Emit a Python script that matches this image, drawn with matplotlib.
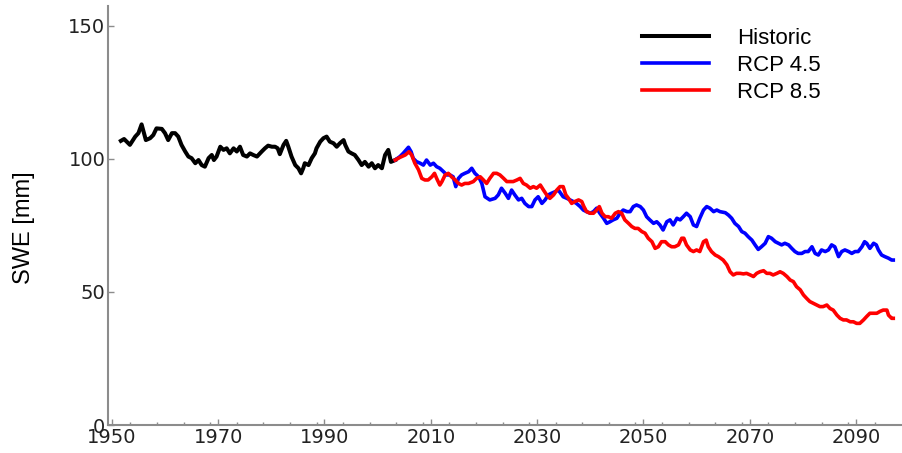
import matplotlib
matplotlib.use('Agg')
import matplotlib.pyplot as plt
from matplotlib.ticker import FixedLocator
import numpy as np

# Snow water equivalent, historic run and two RCP scenarios
hist_year = [1951.7, 1952.3, 1953.4, 1954.4, 1955.0, 1955.6, 1956.4, 1957.2, 1957.8, 1958.4,
             1959.4, 1960.0, 1960.6, 1961.3, 1961.9, 1962.5, 1963.1, 1963.8, 1964.4, 1965.0,
             1965.7, 1966.3, 1966.9, 1967.5, 1968.2, 1968.8, 1969.2, 1969.7, 1970.4, 1971.0,
             1971.6, 1972.2, 1972.9, 1973.5, 1974.1, 1974.7, 1975.4, 1976.0, 1976.6, 1977.3,
             1978.2, 1978.8, 1979.4, 1980.1, 1980.7, 1981.2, 1981.6, 1982.3, 1982.8, 1983.2,
             1983.8, 1984.5, 1985.1, 1985.6, 1986.0, 1986.3, 1987.0, 1987.6, 1988.2, 1988.5,
             1989.2, 1989.8, 1990.4, 1991.0, 1991.7, 1992.3, 1992.9, 1993.6, 1993.9, 1994.5,
             1995.1, 1995.7, 1996.4, 1997.0, 1997.6, 1998.3, 1998.9, 1999.5, 2000.1, 2000.8,
             2001.4, 2002.0, 2002.5, 2003.3]
hist_swe = [106.8, 107.5, 105.3, 108.4, 109.7, 113.0, 107.1, 107.8, 109.0, 111.5,
            111.3, 109.7, 107.1, 109.7, 109.7, 108.4, 105.3, 102.8, 100.9, 100.3,
            98.4, 99.6, 97.7, 97.1, 100.3, 101.5, 99.6, 100.9, 104.6, 103.4,
            104.0, 102.1, 104.0, 102.8, 104.6, 101.5, 100.9, 102.1, 101.5, 100.9,
            102.8, 104.0, 105.0, 104.6, 104.6, 104.0, 101.8, 105.3, 106.8, 104.6,
            100.9, 97.7, 96.5, 94.6, 96.5, 98.4, 97.7, 100.3, 102.1, 104.0,
            106.5, 107.8, 108.4, 106.5, 105.9, 104.6, 105.9, 107.1, 105.3, 102.8,
            102.1, 101.5, 99.6, 97.7, 98.9, 97.1, 98.4, 96.5, 97.7, 96.5,
            101.5, 103.4, 98.9, 99.6]

rcp45_year = [2003.3, 2004.2, 2004.8, 2005.8, 2006.3, 2006.7, 2007.3, 2008.0, 2008.6, 2009.2,
              2009.9, 2010.5, 2011.1, 2011.7, 2012.4, 2013.0, 2013.6, 2014.2, 2014.7, 2015.2,
              2015.8, 2016.4, 2017.1, 2017.7, 2018.3, 2019.0, 2019.6, 2020.2, 2021.1, 2022.1,
              2022.7, 2023.3, 2024.0, 2024.6, 2025.2, 2025.8, 2026.5, 2027.1, 2027.7, 2028.4,
              2029.0, 2029.6, 2030.2, 2030.9, 2031.5, 2032.1, 2032.7, 2033.4, 2034.0,
              2034.9, 2035.6, 2036.2, 2036.8, 2037.4, 2038.1, 2038.7, 2039.3, 2040.0, 2040.6,
              2041.2, 2041.8, 2042.5, 2043.1, 2043.7, 2044.3, 2045.0, 2045.6, 2046.2, 2046.9,
              2047.5, 2048.1, 2048.7, 2049.4, 2050.0, 2050.6, 2051.2, 2051.9, 2052.5, 2053.1,
              2053.7, 2054.4, 2055.0, 2055.6, 2056.3, 2056.9, 2057.5, 2058.1, 2058.8, 2059.4,
              2060.0, 2060.6, 2061.3, 2061.9, 2062.5, 2063.2, 2063.8,
              2064.4, 2065.4, 2066.0, 2066.6, 2067.2, 2067.9, 2068.5, 2069.1, 2069.7, 2070.4,
              2071.0, 2071.6, 2072.2, 2072.9, 2073.5, 2074.1, 2074.8, 2075.4, 2076.0, 2076.6,
              2077.3, 2077.9, 2078.5, 2079.1, 2079.8, 2080.4, 2081.0, 2081.7, 2082.3, 2082.9,
              2083.5, 2084.2, 2084.8, 2085.4, 2086.0, 2086.7, 2087.3, 2087.9, 2088.6, 2089.2,
              2089.8, 2090.4, 2091.1, 2091.6, 2092.0, 2092.6, 2093.3, 2093.8, 2094.2, 2094.8,
              2095.4, 2096.1, 2096.7, 2097.0]
rcp45_swe = [99.6, 100.9, 102.1, 104.4, 102.7, 100.2, 99.0, 98.4, 97.7, 99.6,
             97.7, 98.4, 97.1, 96.5, 95.2, 94.0, 94.0, 93.3, 89.6, 92.7,
             94.0, 94.6, 95.2, 96.5, 94.6, 93.3, 90.8, 85.8, 84.6, 85.2,
             86.5, 89.0, 87.1, 85.2, 88.3, 86.5, 84.6, 85.2, 83.3, 82.1,
             82.1, 84.6, 85.8, 83.3, 84.6, 86.5, 87.1, 87.7, 88.3,
             85.8, 85.2, 84.6, 84.0, 83.3, 82.1, 80.8, 80.2, 79.6, 80.2,
             81.5, 79.6, 77.7, 75.8, 76.4, 77.1, 77.7, 79.6, 80.8, 80.2,
             80.2, 82.1, 82.7, 82.1, 80.8, 78.3, 77.1, 75.8, 76.4, 75.2,
             73.3, 76.4, 77.1, 75.2, 77.7, 77.1, 78.3, 79.6, 78.3, 75.2,
             74.6, 77.7, 80.8, 82.1, 81.5, 80.2, 80.8,
             80.2, 79.8, 78.9, 77.7, 75.8, 74.6, 72.7, 72.1, 70.8, 69.5,
             67.7, 66.0, 67.0, 68.3, 70.8, 70.2, 68.9, 68.3, 67.7, 68.3,
             67.7, 66.4, 65.2, 64.5, 64.5, 65.2, 65.2, 67.0, 64.5, 63.9,
             65.8, 65.2, 65.8, 67.7, 67.0, 63.3, 65.2, 65.8, 65.2, 64.5,
             65.2, 65.2, 67.0, 68.9, 68.3, 66.4, 68.3, 67.7, 65.8, 63.9,
             63.3, 62.7, 62.0, 62.0]

rcp85_year = [2003.3, 2004.2, 2005.2, 2005.9, 2006.4, 2007.0, 2007.7, 2008.3, 2008.9, 2009.5,
              2010.2, 2010.7, 2011.1, 2011.7, 2012.1, 2012.7, 2013.3, 2013.9, 2014.6, 2015.2,
              2015.8, 2016.4, 2017.1, 2018.0, 2018.6, 2019.3, 2019.9, 2020.5, 2021.1, 2021.8,
              2022.4, 2023.0, 2023.7, 2024.3, 2024.9, 2025.5, 2026.2, 2026.8, 2027.4, 2028.0,
              2028.7, 2029.3, 2029.9, 2030.6, 2031.2, 2031.8, 2032.4, 2033.1, 2033.7, 2034.3,
              2034.9, 2035.4, 2035.9, 2036.5, 2037.1, 2037.8, 2038.4, 2038.8, 2039.3, 2040.0,
              2040.6, 2041.2, 2041.7, 2042.2, 2042.8, 2043.4, 2044.0, 2044.7, 2045.3, 2045.9,
              2046.5, 2047.2, 2047.8, 2048.4, 2049.0, 2049.7, 2050.3, 2050.9, 2051.6, 2052.2,
              2052.8, 2053.4, 2054.1, 2054.7, 2055.3, 2055.9, 2056.6, 2057.2, 2057.6, 2058.1,
              2058.8, 2059.4, 2060.0, 2060.6, 2061.3, 2061.8, 2062.2, 2062.8, 2063.5, 2064.1,
              2065.0, 2065.7, 2066.3, 2066.9, 2067.5, 2068.2, 2068.8, 2069.4, 2070.1, 2070.7,
              2071.3, 2071.9, 2072.6, 2073.2, 2073.8, 2074.4, 2075.1, 2075.7, 2076.3, 2077.0,
              2077.6, 2078.2, 2078.8, 2079.5, 2080.1, 2080.7, 2081.3, 2082.0, 2082.6, 2083.2,
              2083.8, 2084.5, 2085.1, 2085.7, 2086.4, 2087.0, 2087.6, 2088.2, 2088.9, 2089.5,
              2090.1, 2090.7, 2091.4, 2092.0, 2092.6, 2093.3, 2093.9, 2094.5, 2095.1, 2095.8,
              2096.1, 2096.7, 2097.0]
rcp85_swe = [99.6, 100.6, 101.5, 102.7, 101.5, 98.4, 95.9, 92.7, 92.1, 92.1,
             93.3, 94.6, 92.7, 90.2, 91.5, 94.0, 94.6, 93.3, 92.1, 90.8,
             90.2, 90.8, 90.8, 91.5, 92.7, 93.3, 92.1, 90.8, 92.7, 94.6,
             94.6, 94.0, 92.7, 91.5, 91.5, 91.5, 92.1, 92.7, 90.8, 90.2,
             89.0, 89.6, 89.0, 90.2, 88.3, 86.5, 85.2, 86.5, 88.3, 89.6,
             89.6, 86.5, 85.2, 83.3, 84.0, 84.6, 84.0, 82.1, 80.2, 79.6,
             79.6, 80.8, 82.1, 79.6, 78.3, 78.3, 77.7, 79.6, 80.2, 79.6,
             77.1, 75.8, 74.6, 73.9, 73.9, 72.7, 72.1, 70.2, 68.9, 66.4,
             67.0, 68.9, 68.9, 67.7, 67.0, 67.0, 67.7, 70.2, 70.2, 67.7,
             65.8, 65.2, 65.8, 65.2, 68.9, 69.5, 67.0, 65.2, 63.9, 63.3,
             62.0, 60.2, 57.6, 56.4, 57.0, 57.0, 56.8, 57.0, 56.4, 55.8,
             57.0, 57.6, 58.0, 57.0, 57.0, 56.4, 57.0, 57.6, 57.0, 55.8,
             54.5, 53.9, 52.0, 50.8, 48.9, 47.6, 46.4, 45.7, 45.1, 44.5,
             44.5, 45.1, 43.8, 43.2, 41.3, 40.1, 39.5, 39.5, 38.8, 38.8,
             38.2, 38.2, 39.5, 40.8, 42.0, 42.0, 42.0, 42.7, 43.2, 43.2,
             41.3, 40.1, 40.1]

xticks = [1950, 1970, 1990, 2010, 2030, 2050, 2070, 2090]
yticks = [0, 50, 100, 150]

fig = plt.figure(figsize=(9.02, 4.53), dpi=100)
ax = fig.add_axes([0.1201, 0.0618, 0.8799, 0.925])

ax.plot(hist_year, hist_swe, color='black', lw=2.9, solid_joinstyle='round', label='Historic')
ax.plot(rcp45_year, rcp45_swe, color='blue', lw=2.6, solid_joinstyle='round', label='RCP 4.5')
ax.plot(rcp85_year, rcp85_swe, color='red', lw=2.6, solid_joinstyle='round', label='RCP 8.5')

ax.set_xlim(1949.34, 2098.64)
ax.set_ylim(0, 157.5)
ax.set_xticks(xticks)
ax.set_yticks(yticks)
ax.xaxis.set_minor_locator(FixedLocator(np.arange(1953.5, 2098, 5)))

for side in ['top', 'right']:
    ax.spines[side].set_visible(False)
for side in ['left', 'bottom']:
    ax.spines[side].set_color('#8c8c8c')
    ax.spines[side].set_linewidth(1.5)

ax.tick_params(which='both', direction='in', color='#8c8c8c', width=1)
ax.tick_params(which='major', length=4, labelsize=14, labelcolor='#222222', pad=2.2)
ax.tick_params(which='minor', length=2)

ax.set_ylabel('SWE [mm]', fontsize=17, family='Liberation Sans')
ax.yaxis.set_label_coords(-0.093, 0.47)

ax.legend(loc='upper left', bbox_to_anchor=(0.673, 0.947), frameon=False,
          borderpad=0, borderaxespad=0, handlelength=3.0, handletextpad=1.27,
          labelspacing=0.26, prop={'family': 'Liberation Sans', 'size': 16})

fig.savefig('out.png', dpi=100)
